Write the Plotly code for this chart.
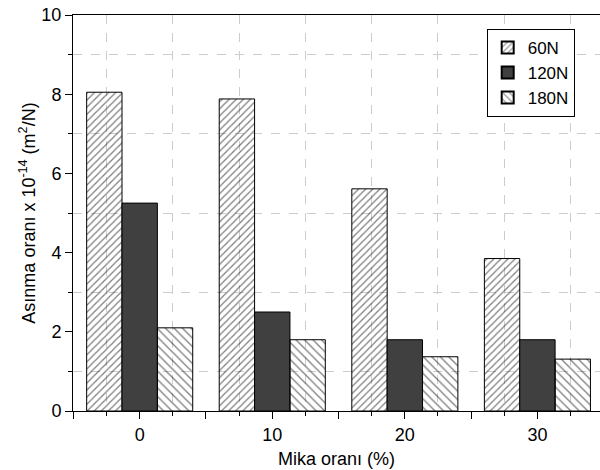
import plotly.graph_objects as go

# Data
mika = [0, 10, 20, 30]
series_names = ["60N", "120N", "180N"]
v60 = [8.05, 7.88, 5.61, 3.85]
v120 = [5.25, 2.50, 1.80, 1.80]
v180 = [2.10, 1.80, 1.37, 1.31]

x_major = [-5, 0, 5, 10, 15, 20, 25, 30]
x_labels = ["", "0", "", "10", "", "20", "", "30"]
x_minor = [-2.5, 2.5, 7.5, 12.5, 17.5, 22.5, 27.5, 32.5]

FONT = "Arial, Liberation Sans, sans-serif"

fig = go.Figure()
fig.add_trace(go.Bar(
    x=mika, y=v60, name=series_names[0],
    marker=dict(color="rgba(0,0,0,0)", line=dict(color="black", width=1),
                pattern=dict(shape="/", fgcolor="black", bgcolor="rgba(0,0,0,0)",
                             size=5, solidity=0.25, fillmode="overlay")),
))
fig.add_trace(go.Bar(
    x=mika, y=v120, name=series_names[1],
    marker=dict(color="#404040", line=dict(color="black", width=1)),
))
fig.add_trace(go.Bar(
    x=mika, y=v180, name=series_names[2],
    marker=dict(color="rgba(0,0,0,0)", line=dict(color="black", width=1),
                pattern=dict(shape="\\", fgcolor="black", bgcolor="rgba(0,0,0,0)",
                             size=6, solidity=0.22, fillmode="overlay")),
))

fig.update_layout(
    width=600, height=470,
    margin=dict(l=73, r=0, t=15, b=59, autoexpand=False),
    paper_bgcolor="white", plot_bgcolor="white",
    barmode="group", bargap=0.2, bargroupgap=0,
    font=dict(family=FONT, size=18, color="black"),
    showlegend=True,
    legend=dict(x=0.785, y=0.965, xanchor="left", yanchor="top",
                bgcolor="white", bordercolor="black", borderwidth=1,
                font=dict(size=17, family=FONT), tracegroupgap=0,
                itemsizing="constant"),
    xaxis=dict(
        range=[-5.03, 34.72], automargin=False,
        tickmode="array", tickvals=x_major, ticktext=x_labels,
        ticks="outside", ticklen=7, tickcolor="black", tickwidth=1,
        showline=True, linecolor="black", linewidth=1, mirror=True,
        showgrid=False, zeroline=False,
        minor=dict(tickmode="array", tickvals=x_minor, ticks="outside", ticklen=4,
                   tickcolor="black", showgrid=True, gridcolor="#cccccc",
                   griddash="dash", gridwidth=1),
        title=dict(text="Mika oranı (%)", font=dict(size=18), standoff=8),
        tickfont=dict(size=18),
    ),
    yaxis=dict(
        range=[0, 10], automargin=False,
        tickmode="linear", tick0=0, dtick=2,
        ticks="outside", ticklen=7, tickcolor="black", tickwidth=1,
        showline=True, linecolor="black", linewidth=1,
        showgrid=False, zeroline=False,
        minor=dict(dtick=1, ticks="outside", ticklen=4, tickcolor="black",
                   showgrid=True, gridcolor="#cccccc", griddash="dash", gridwidth=1),
        title=dict(text="Asınma oranı x 10<sup>-14</sup> (m<sup>2</sup>/N)",
                   font=dict(size=18), standoff=1),
        tickfont=dict(size=18),
    ),
)

fig.write_html("out.html", config={"displayModeBar": False},
               post_script="document.body.style.margin='0';")
